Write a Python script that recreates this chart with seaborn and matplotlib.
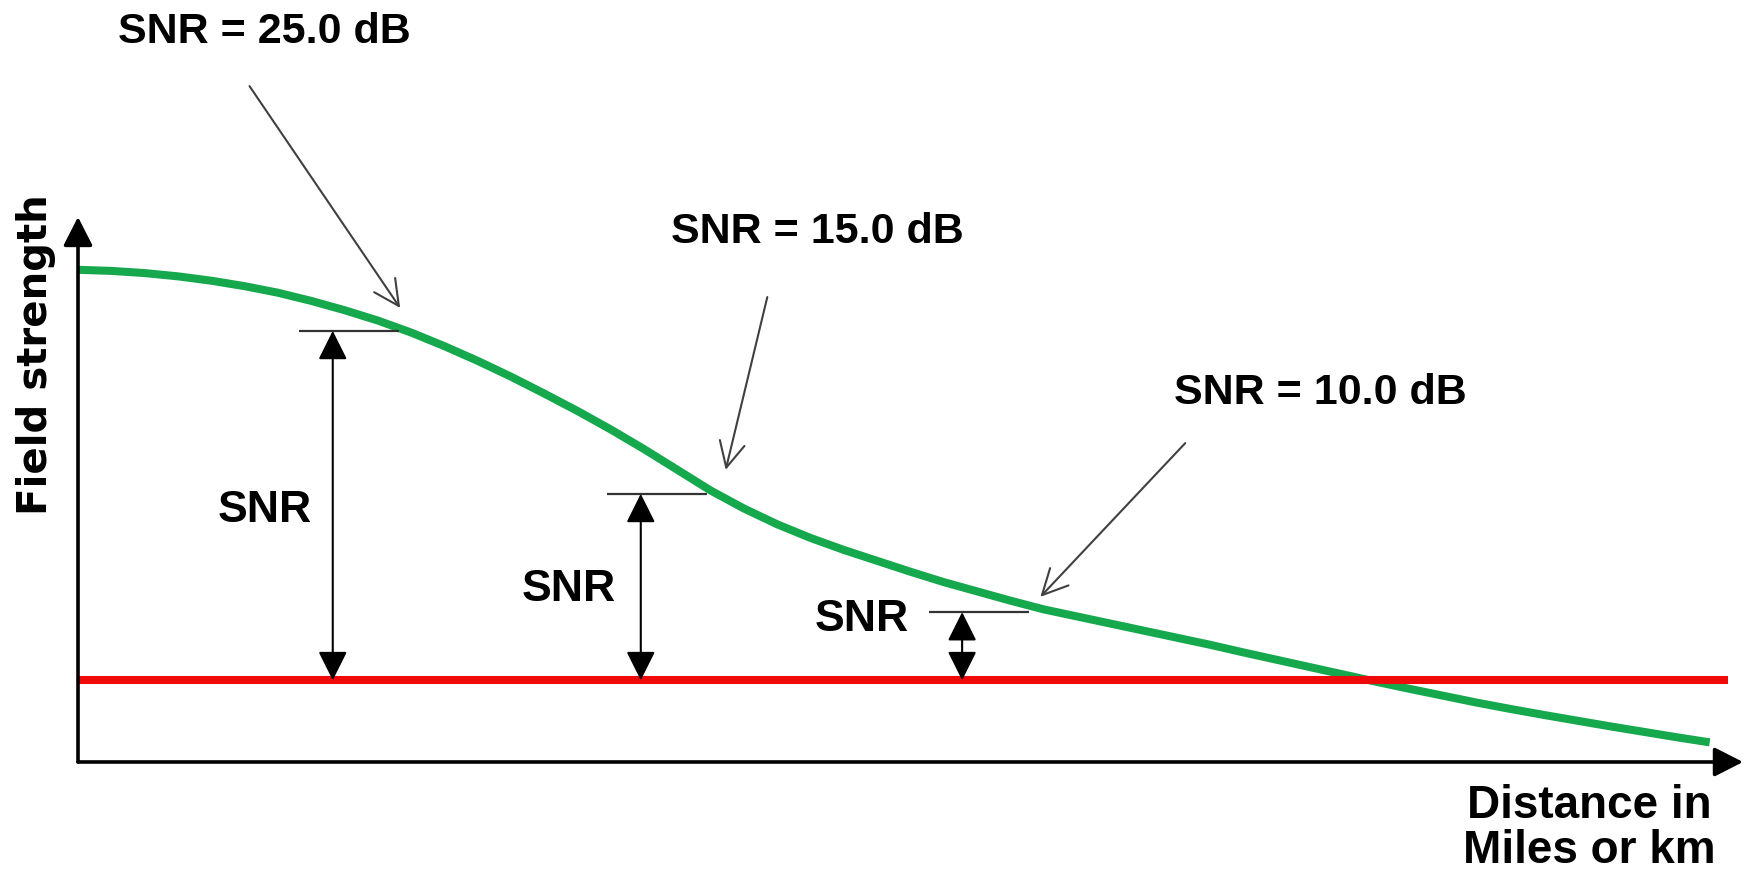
import matplotlib
matplotlib.use('Agg')
import matplotlib.pyplot as plt
import pandas as pd
import seaborn as sns

# field strength curve (distance / strength in arbitrary units)
distance = [0, 2, 4, 6, 8, 10, 12, 14, 16, 18, 20, 22, 24, 26, 28, 30, 32, 34, 36, 38,
            40, 42, 44, 46, 48, 50, 52, 54, 56, 58, 60, 62, 64, 66, 68, 70, 72, 74, 76,
            78, 80, 82, 84, 86, 88, 90, 92, 94, 96, 98]
field_strength = [90.3, 90.1, 89.7, 89.1, 88.3, 87.3, 86.1, 84.6, 82.9, 81.0, 78.8,
                  76.3, 73.6, 70.7, 67.6, 64.4, 61.0, 57.4, 53.6, 49.8, 46.5, 43.6,
                  41.1, 38.9, 36.9, 34.9, 33.0, 31.3, 29.6, 28.0, 26.7, 25.4, 24.1,
                  22.8, 21.5, 20.1, 18.75, 17.4, 16.05, 14.7, 13.4, 12.15, 10.9, 9.75,
                  8.65, 7.6, 6.55, 5.55, 4.55, 3.6]

# noise floor (red line)
noise_floor = 15.0
noise_x = [0, 99.1]

# points where the SNR is marked
snr_x = [19.3, 37.8, 57.1]
snr_field = [79.1, 49.2, 27.5]
snr_db = [25.0, 15.0, 10.0]

# label layout: text centre and arrow tail / head
label_pos = [(11.2, 133.9), (44.4, 97.2), (74.6, 67.7)]
arrow_tail = [(10.3, 124.0), (41.4, 85.3), (66.5, 58.5)]
arrow_head = [(19.35, 83.3), (38.9, 53.6), (57.8, 30.3)]
snr_text_pos = [(11.2, 46.1), (29.5, 31.7), (47.1, 26.2)]

sns.set_style('white')
plt.rcParams['font.family'] = ['Liberation Sans', 'DejaVu Sans']
plt.rcParams['text.color'] = 'black'

fig = plt.figure(figsize=(17.52, 8.74), dpi=100)
ax = fig.add_axes([0, 0, 1, 1])
ax.set_xlim(-4.685, 100.54)
ax.set_ylim(-20.55, 139.8)
ax.axis('off')

curve = pd.DataFrame({'distance': distance, 'field': field_strength})
sns.lineplot(data=curve, x='distance', y='field', ax=ax, color='#16a84c', lw=5.8,
             solid_capstyle='butt', solid_joinstyle='round', zorder=2)
noise = pd.DataFrame({'distance': noise_x, 'field': [noise_floor] * len(noise_x)})
sns.lineplot(data=noise, x='distance', y='field', ax=ax, color='#ee0a0a', lw=5.8,
             solid_capstyle='butt', zorder=3)

# axes with arrow heads
axis_arrow = dict(arrowstyle='-|>,head_length=0.55,head_width=0.28', color='black',
                  lw=2.6, mutation_scale=32, shrinkA=0, shrinkB=0)
ax.annotate('', xy=(0, 100), xytext=(0, 0), arrowprops=axis_arrow)
ax.annotate('', xy=(100, 0), xytext=(0, 0), arrowprops=axis_arrow)

for x, y, db, lp, tail, head, sp in zip(snr_x, snr_field, snr_db, label_pos,
                                       arrow_tail, arrow_head, snr_text_pos):
    ax.hlines(y, x - 6, x, color='#333333', lw=1.6, zorder=4)
    ax.annotate('', xy=(x - 4, y), xytext=(x - 4, noise_floor),
                arrowprops=dict(arrowstyle='<|-|>,head_length=0.6,head_width=0.3',
                                color='black', lw=1.5, mutation_scale=30,
                                shrinkA=0, shrinkB=0), zorder=5)
    ax.text(sp[0], sp[1], 'SNR', ha='center', va='center', fontsize=32,
            fontweight='bold', color='black')
    ax.text(lp[0], lp[1], f'SNR = {db:.1f} dB', ha='center', va='center',
            fontsize=31, fontweight='bold', color='black')
    ax.annotate('', xy=head, xytext=tail,
                arrowprops=dict(arrowstyle='->,head_length=0.7,head_width=0.35',
                                color='#404040', lw=1.5, mutation_scale=26,
                                shrinkA=0, shrinkB=0))

ax.text(-2.52, 74.7, 'Field strength', rotation=90, ha='center', va='center',
        fontsize=29, fontweight='bold', family=['DejaVu Sans'], color='black')
ax.text(90.75, -4.0, 'Distance in\nMiles or km', ha='center', va='top',
        fontsize=33, fontweight='bold', linespacing=1.05, color='black')

fig.savefig('out.png', dpi=100)
